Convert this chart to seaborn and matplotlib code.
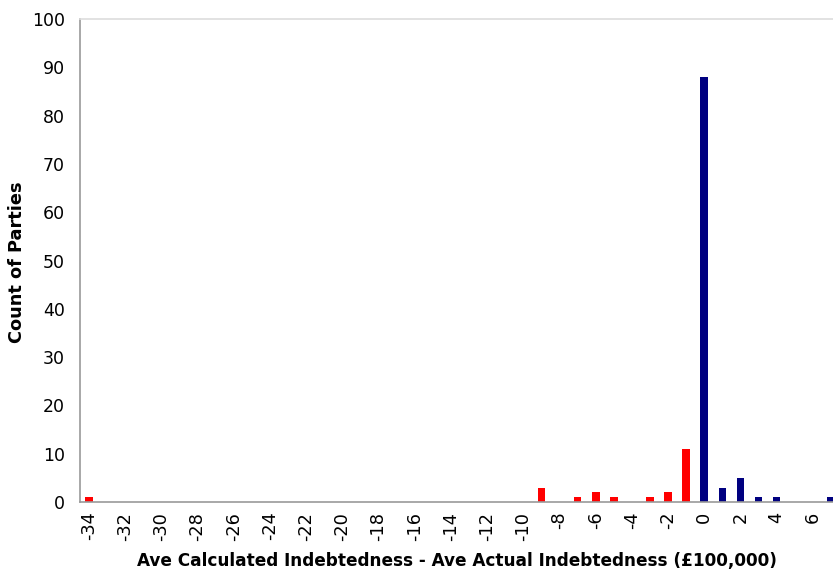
import numpy as np
import pandas as pd
import matplotlib
matplotlib.use("Agg")
import matplotlib.pyplot as plt
import seaborn as sns

categories = list(range(-34, 8))
nonzero = {-34: 1, -9: 3, -7: 1, -6: 2, -5: 1, -3: 1, -2: 2, -1: 11,
           0: 88, 1: 3, 2: 5, 3: 1, 4: 1, 7: 1}
counts = [nonzero.get(c, 0) for c in categories]
tick_labels = [str(c) for c in range(-34, 7, 2)]
neg_color = "#FF0000"
pos_color = "#000080"

cat_str = [str(c) for c in categories]
df = pd.DataFrame({"cat": cat_str, "count": counts})
palette = {s: (neg_color if c < 0 else pos_color) for s, c in zip(cat_str, categories)}

sns.set_style("white")
plt.rcParams['font.family'] = ['DejaVu Sans']
plt.rcParams['text.color'] = 'black'
plt.rcParams['axes.labelcolor'] = 'black'
plt.rcParams['xtick.color'] = 'black'
plt.rcParams['ytick.color'] = 'black'

fig = plt.figure(figsize=(8.33, 5.74), dpi=100)
ax = fig.add_axes([80/833, 1-502/574, 760/833, (502-19)/574])

sns.barplot(data=df, x="cat", y="count", hue="cat", palette=palette,
            width=0.42, legend=False, ax=ax, order=cat_str, saturation=1,
            linewidth=0, edgecolor='none')

ax.set_xlim(-0.5, len(categories) - 0.5)
ax.set_ylim(0, 100)
ax.set_yticks(np.arange(0, 101, 10))
ax.tick_params(axis='y', labelsize=12.5, length=5, color='#999999', width=1, pad=6,
               labelcolor='black')

major_pos = [categories.index(int(t)) for t in tick_labels]
ax.set_xticks(major_pos)
ax.set_xticklabels(tick_labels, rotation=90, fontsize=12.8)
ax.tick_params(axis='x', which='major', length=0, pad=7, labelcolor='black')
ax.set_xticks(np.arange(-0.5, len(categories), 1), minor=True)
ax.tick_params(axis='x', which='minor', length=5, color='#999999', width=1, direction='out')

for s in ['left', 'bottom']:
    ax.spines[s].set_color('#999999')
    ax.spines[s].set_linewidth(1.2)
ax.spines['right'].set_visible(False)
ax.spines['top'].set_color('#dddddd')
ax.spines['top'].set_linewidth(1.2)

ax.set_ylabel("Count of Parties", fontsize=12.8, fontweight='bold', color='black')
ax.yaxis.set_label_coords(-54/760, (502-262)/483)
ax.set_xlabel("Ave Calculated Indebtedness - Ave Actual Indebtedness (£100,000)",
              fontsize=12.2, fontweight='bold', color='black')
ax.xaxis.set_label_coords((457-80)/760, -(552-502)/483)

fig.savefig("out.png", dpi=100)
